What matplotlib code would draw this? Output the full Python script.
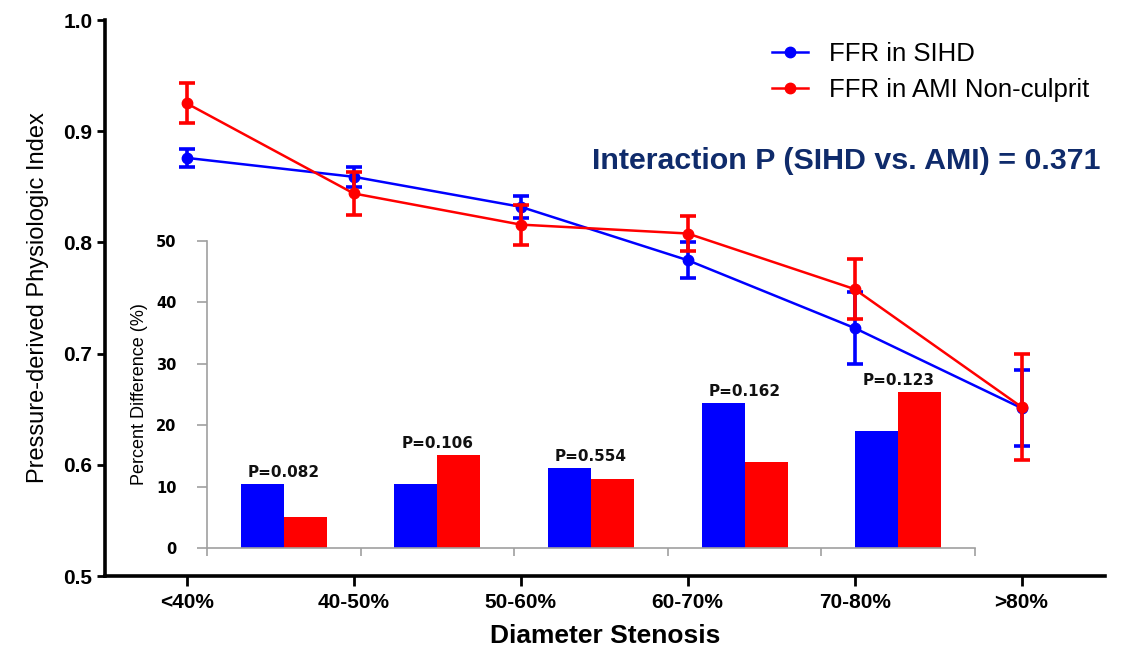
import numpy as np
import matplotlib
matplotlib.use("Agg")
import matplotlib.pyplot as plt
from matplotlib import font_manager

# data
categories = ["<40%", "40-50%", "50-60%", "60-70%", "70-80%", ">80%"]
sihd_mean = [0.876, 0.859, 0.832, 0.784, 0.723, 0.651]
sihd_err = [0.008, 0.009, 0.010, 0.016, 0.032, 0.034]
ami_mean = [0.925, 0.844, 0.816, 0.808, 0.758, 0.652]
ami_err = [0.018, 0.019, 0.018, 0.016, 0.027, 0.048]

# inset: percent difference per adjacent stenosis group
sihd_pct = [10.4, 10.4, 13.0, 23.6, 19.1]
ami_pct = [5.0, 15.1, 11.2, 14.0, 25.4]
p_labels = ["P=0.082", "P=0.106", "P=0.554", "P=0.162", "P=0.123"]

BLUE = "#0000ff"
RED = "#ff0000"
NAVY = "#0f2b6b"

names = {f.name for f in font_manager.fontManager.ttflist}
NARROW = "Liberation Sans Narrow" in names
if NARROW:
    narrow_font = ["Liberation Sans Narrow", "DejaVu Sans"]
    xlabel_size, inter_size = 23, 26.5
else:
    narrow_font = ["Liberation Sans", "DejaVu Sans"]
    xlabel_size, inter_size = 19, 21.9
sans = ["Liberation Sans", "DejaVu Sans"]

fig = plt.figure(figsize=(11.47, 6.5), dpi=100)
fig.patch.set_facecolor("white")

ax = fig.add_axes([105 / 1147, 74 / 650, 1000 / 1147, 556 / 650])
ins = fig.add_axes([207 / 1147, 102 / 650, 768 / 1147, 307 / 650])
ax.set_zorder(2)
ins.set_zorder(1)
ax.patch.set_alpha(0)
ins.patch.set_alpha(0)

# ---- main chart ----
x = np.arange(len(categories))
eb1 = ax.errorbar(x, sihd_mean, yerr=sihd_err, color=BLUE, lw=1.8, marker="o", ms=7.5,
                  elinewidth=2.6, capsize=6, capthick=2.6, zorder=3)
eb2 = ax.errorbar(x, ami_mean, yerr=ami_err, color=RED, lw=1.8, marker="o", ms=7.5,
                  elinewidth=2.6, capsize=6, capthick=2.6, zorder=4)

ax.set_xlim(-0.49, 5.5)
ax.set_ylim(0.5, 1.0)
ax.set_yticks(np.arange(0.5, 1.01, 0.1))
ax.set_yticklabels([f"{v:.1f}" for v in np.arange(0.5, 1.01, 0.1)],
                   fontsize=15, fontweight="bold", family=sans)
ax.set_xticks(x)
ax.set_xticklabels(categories, fontsize=15, fontweight="bold", family=sans)
ax.tick_params(axis="y", length=6, width=2, pad=3)
ax.tick_params(axis="x", length=7, width=2, pad=5)
for s in ["top", "right"]:
    ax.spines[s].set_visible(False)
for s in ["left", "bottom"]:
    ax.spines[s].set_linewidth(2.6)

ax.set_xlabel("Diameter Stenosis", fontsize=xlabel_size, fontweight="bold",
              family=narrow_font, labelpad=9)
ax.set_ylabel("Pressure-derived Physiologic Index", fontsize=17, family=sans, labelpad=10)

ax.legend(handles=[eb1.lines[0], eb2.lines[0]],
          labels=["FFR in SIHD", "FFR in AMI Non-culprit"],
          loc="upper left", bbox_to_anchor=(772 / 1147, (650 - 42) / 650),
          bbox_transform=fig.transFigure, frameon=False,
          handlelength=1.4, handletextpad=0.8, labelspacing=0.45,
          borderpad=0, borderaxespad=0, prop={"family": sans, "size": 18.5})

fig.text(592 / 1147, (650 - 169) / 650, "Interaction P (SIHD vs. AMI) = 0.371",
         fontsize=inter_size, fontweight="bold", family=narrow_font, color=NAVY,
         ha="left", va="baseline")

# ---- inset bar chart ----
gx = np.arange(len(sihd_pct)) + 0.5
w = 0.28
ins.bar(gx - w / 2, sihd_pct, w, color=BLUE)
ins.bar(gx + w / 2, ami_pct, w, color=RED)
for xi, a, b, lab in zip(gx, sihd_pct, ami_pct, p_labels):
    ins.annotate(lab, (xi, max(a, b)), xytext=(0, 5), textcoords="offset points",
                 ha="center", va="baseline", fontsize=11, fontweight="bold",
                 family="DejaVu Sans", color="#111111")

ins.set_xlim(0, 5)
ins.set_ylim(0, 50)
ins.set_xticks(np.arange(0, 6))
ins.set_xticklabels([])
ins.set_yticks(np.arange(0, 51, 10))
ins.set_yticklabels([str(v) for v in range(0, 51, 10)], fontsize=10.5,
                    fontweight="bold", family="DejaVu Sans")
ins.tick_params(axis="both", color="#a0a0a0", width=1.2)
ins.tick_params(axis="y", length=7, pad=15)
ins.tick_params(axis="x", length=6)
for s in ["top", "right"]:
    ins.spines[s].set_visible(False)
for s in ["left", "bottom"]:
    ins.spines[s].set_color("#a0a0a0")
    ins.spines[s].set_linewidth(1.2)
ins.set_ylabel("Percent Difference (%)", fontsize=13, family=sans, labelpad=6)

fig.savefig("out.png", dpi=100, facecolor="white")
